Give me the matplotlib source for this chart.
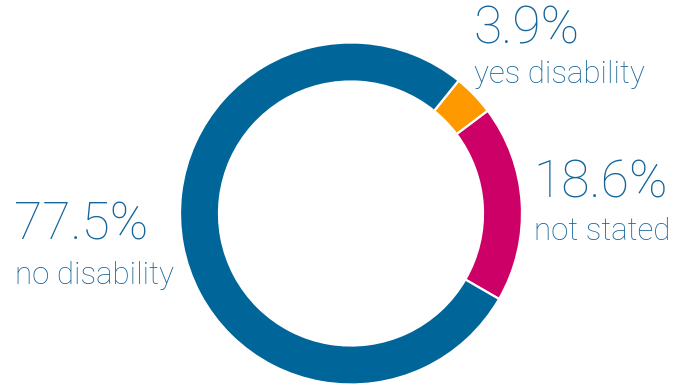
import matplotlib
matplotlib.use("Agg")
import matplotlib.pyplot as plt

categories = ["no disability", "not stated", "yes disability"]
shares = [77.5, 18.6, 3.9]
colors = ["#006699", "#cc0066", "#ff9900"]

W, H = 673, 387
fig = plt.figure(figsize=(W / 100, H / 100), dpi=100)
ax = fig.add_axes([0, 0, 1, 1])
ax.set_xlim(0, W)
ax.set_ylim(0, H)
ax.set_aspect("equal")
ax.axis("off")

# pie order counter-clockwise: not stated, yes disability, no disability
order = [1, 2, 0]
ax.pie([shares[i] for i in order],
       colors=[colors[i] for i in order],
       center=(351, H - 213.5), radius=171,
       startangle=-30, counterclock=True,
       wedgeprops=dict(width=39, edgecolor="white", linewidth=1.6))
ax.set_xlim(0, W)
ax.set_ylim(0, H)

txt = "#15659a"
font = dict(family=["Roboto", "DejaVu Sans"], weight="light", color=txt)
# (label index, x, value baseline, label baseline)
placements = [(0, 14, 239, 284), (2, 473, 43, 83), (1, 533, 197, 240)]
for i, x, yv, yl in placements:
    ax.text(x, H - yv, f"{shares[i]:.1f}%", fontsize=37.2, ha="left",
            va="baseline", **font)
    ax.text(x + 1, H - yl, categories[i], fontsize=22.5, ha="left",
            va="baseline", **font)

fig.savefig("out.png", dpi=100)
